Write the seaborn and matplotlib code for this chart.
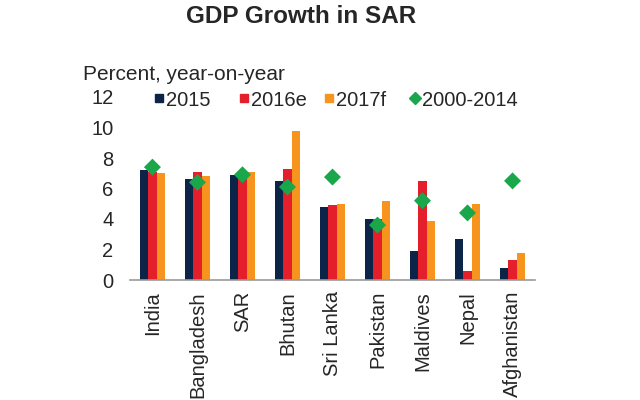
import matplotlib
matplotlib.use("Agg")
import matplotlib.pyplot as plt
from matplotlib.lines import Line2D
import seaborn as sns
import pandas as pd

countries = ["India", "Bangladesh", "SAR", "Bhutan", "Sri Lanka", "Pakistan",
             "Maldives", "Nepal", "Afghanistan"]
g2015 = [7.2, 6.6, 6.9, 6.5, 4.8, 4.0, 1.9, 2.7, 0.8]
g2016e = [7.1, 7.1, 7.1, 7.3, 4.9, 4.0, 6.5, 0.6, 1.3]
g2017f = [7.0, 6.8, 7.1, 9.8, 5.0, 5.2, 3.9, 5.0, 1.8]
avg0014 = [7.4, 6.4, 6.9, 6.1, 6.75, 3.6, 5.2, 4.4, 6.5]
series_names = ["2015", "2016e", "2017f"]
legend_labels = series_names + ["2000-2014"]
yticks = [0, 2, 4, 6, 8, 10, 12]

colors = ["#0B2448", "#E41E2B", "#F7941D"]
green = "#1AA64A"

sns.set_theme(style="white")
plt.rcParams['font.family'] = ['Liberation Sans', 'DejaVu Sans']

df = pd.DataFrame({
    "country": countries * 3,
    "value": g2015 + g2016e + g2017f,
    "series": sum([[s] * len(countries) for s in series_names], []),
})

fig = plt.figure(figsize=(6.4, 4.0), dpi=100)
ax = fig.add_axes([0.203, 0.30, 0.633, 0.4575])
sns.barplot(data=df, x="country", y="value", hue="series", palette=colors,
            width=0.56, gap=0, saturation=1, linewidth=0, ax=ax, legend=False)
sns.scatterplot(x=countries, y=avg0014, marker="D", color=green, s=75,
                edgecolor="none", ax=ax, zorder=5)

ax.set_ylim(0, 12)
ax.set_yticks(yticks)
ax.set_yticklabels([str(t) for t in yticks], fontsize=14.5)
ax.set_xlim(-0.5, len(countries) - 0.5)
ax.set_xlabel("")
ax.set_ylabel("")
ax.tick_params(axis="x", labelrotation=90, labelsize=14.5, length=0, pad=8)
ax.tick_params(axis="y", length=0, pad=12)
for s in ["top", "right", "left"]:
    ax.spines[s].set_visible(False)
ax.spines["bottom"].set_color("#999999")
ax.spines["bottom"].set_linewidth(1.2)

fig.text(0.47, 0.958, "GDP Growth in SAR", ha="center", va="center",
         fontsize=17.5, fontweight="bold")
fig.text(0.13, 0.815, "Percent, year-on-year", ha="left", va="center", fontsize=15)

handles = [Line2D([], [], marker="s", linestyle="none", color=c, markersize=6)
           for c in colors]
handles.append(Line2D([], [], marker="D", linestyle="none", color=green, markersize=6.5))
legend_x_px = [153, 238, 323, 409]
for h, lab, xp in zip(handles, legend_labels, legend_x_px):
    fig.legend([h], [lab], loc="center left", bbox_to_anchor=(xp / 640, 1 - 100 / 400),
               frameon=False, fontsize=14.5, handlelength=0.55, handletextpad=0.1,
               borderaxespad=0, borderpad=0)

fig.savefig("out.png", dpi=100)
